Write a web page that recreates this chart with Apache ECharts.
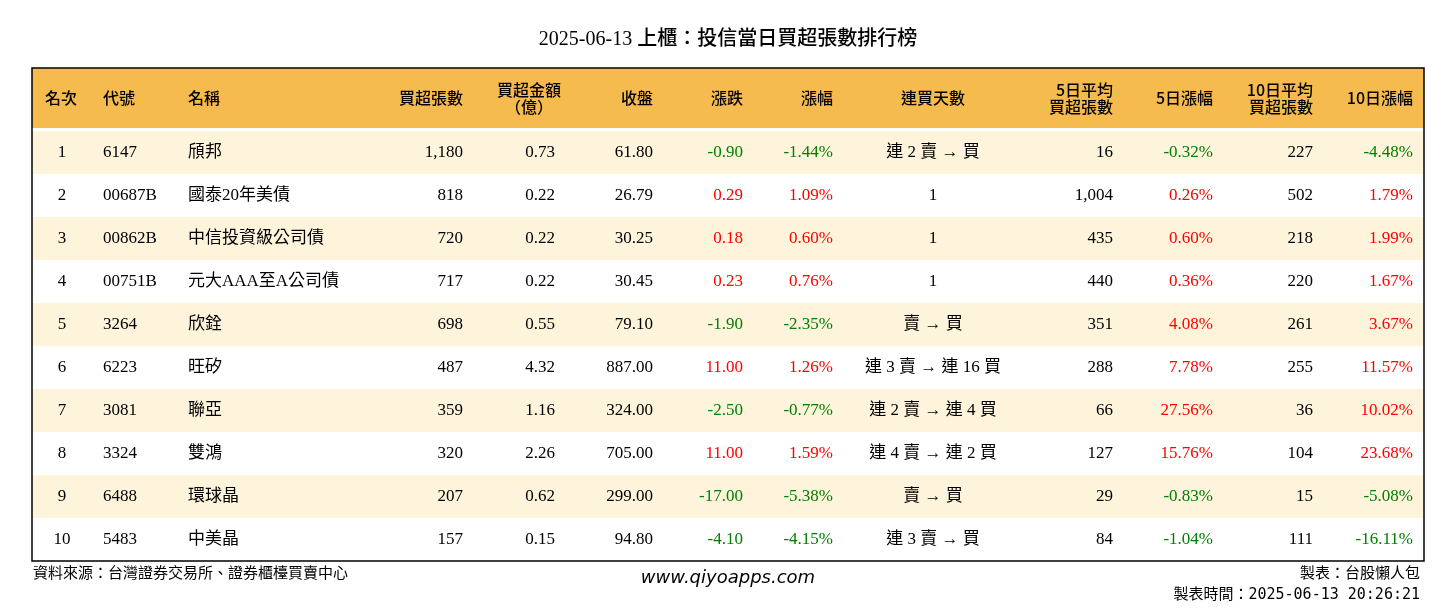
<!DOCTYPE html>
<html><head><meta charset="utf-8">
<script src="https://cdn.jsdelivr.net/npm/echarts@6/dist/echarts.min.js"></script>
<style>html,body{margin:0;padding:0;background:#fff}#c{width:1456px;height:612px}</style>
</head><body><div id="c"></div>
<script>
var headers = ['名次', '代號', '名稱', '買超張數', '買超金額\n（億）', '收盤', '漲跌', '漲幅', '連買天數', '5日平均\n買超張數', '5日漲幅', '10日平均\n買超張數', '10日漲幅'];
var codes = ['6147', '00687B', '00862B', '00751B', '3264', '6223', '3081', '3324', '6488', '5483'];
var names = ['頎邦', '國泰20年美債', '中信投資級公司債', '元大AAA至A公司債', '欣銓', '旺矽', '聯亞', '雙鴻', '環球晶', '中美晶'];
var buyLots = ['1,180', '818', '720', '717', '698', '487', '359', '320', '207', '157'];
var buyAmount = ['0.73', '0.22', '0.22', '0.22', '0.55', '4.32', '1.16', '2.26', '0.62', '0.15'];
var closes = ['61.80', '26.79', '30.25', '30.45', '79.10', '887.00', '324.00', '705.00', '299.00', '94.80'];
var changes = ['-0.90', '0.29', '0.18', '0.23', '-1.90', '11.00', '-2.50', '11.00', '-17.00', '-4.10'];
var changePct = ['-1.44%', '1.09%', '0.60%', '0.76%', '-2.35%', '1.26%', '-0.77%', '1.59%', '-5.38%', '-4.15%'];
var streaks = ['連 2 賣 → 買', '1', '1', '1', '賣 → 買', '連 3 賣 → 連 16 買', '連 2 賣 → 連 4 買', '連 4 賣 → 連 2 買', '賣 → 買', '連 3 賣 → 買'];
var avg5 = ['16', '1,004', '435', '440', '351', '288', '66', '127', '29', '84'];
var pct5 = ['-0.32%', '0.26%', '0.60%', '0.36%', '4.08%', '7.78%', '27.56%', '15.76%', '-0.83%', '-1.04%'];
var avg10 = ['227', '502', '218', '220', '261', '255', '36', '104', '15', '111'];
var pct10 = ['-4.48%', '1.79%', '1.99%', '1.67%', '3.67%', '11.57%', '10.02%', '23.68%', '-5.08%', '-16.11%'];

// column layout: x within table (px), text alignment
var colX = [30, 71, 156, 431, 523, 621, 711, 801, 901, 1081, 1181, 1281, 1381];
var colAlign = ['center', 'left', 'left', 'right', 'right', 'right', 'right', 'right', 'center', 'right', 'right', 'right', 'right'];
var headX = [13, 71, 156, 431, 497, 621, 711, 801, 901, 1081, 1181, 1281, 1381];
var headAlign = ['left', 'left', 'left', 'right', 'center', 'right', 'right', 'right', 'center', 'right', 'right', 'right', 'right'];
var signCols = [6, 7, 10, 12];

var FONT = '"Liberation Serif", "Noto Sans CJK TC", serif';
var rows = codes.map(function (c, i) { return i; });

function cellValues(i) {
  return [String(i + 1), codes[i], names[i], buyLots[i], buyAmount[i], closes[i], changes[i], changePct[i],
    streaks[i], avg5[i], pct5[i], avg10[i], pct10[i]];
}

var chart = echarts.init(document.getElementById('c'));
var L = 32, T = 68, W = 1392, HH = 60;
var FOOT = '15px "DejaVu Sans Mono", "Noto Sans CJK TC", monospace';

var graphics = [
  {type: 'text', left: 'center', top: 30, style: {text: '2025-06-13 上櫃：投信當日買超張數排行榜', font: '500 20px ' + FONT, fill: '#000'}},
  {type: 'rect', shape: {x: L, y: T, width: W, height: HH}, style: {fill: '#F6BB4E'}, z: 1},
  {type: 'rect', shape: {x: L, y: T, width: W, height: 493}, style: {fill: 'none', stroke: '#000', lineWidth: 1.5}, z: 10},
  {type: 'text', left: 33, top: 567, style: {text: '資料來源：台灣證券交易所、證券櫃檯買賣中心', font: FOOT, fill: '#000'}},
  {type: 'text', left: 'center', top: 569, style: {text: 'www.qiyoapps.com', font: 'italic 18px "DejaVu Sans", sans-serif', fill: '#000'}},
  {type: 'text', right: 36, top: 567, style: {text: '製表：台股懶人包', font: FOOT, fill: '#000', align: 'right'}},
  {type: 'text', right: 36, top: 588, style: {text: '製表時間：2025-06-13 20:26:21', font: FOOT, fill: '#000', align: 'right'}}
];
headers.forEach(function (h, j) {
  graphics.push({type: 'text', x: L + headX[j], y: T + HH / 2, z: 5,
    style: {text: h, font: '500 16px "Noto Sans CJK TC"', fill: '#000', align: headAlign[j], verticalAlign: 'middle', lineHeight: 17}});
});

chart.setOption({
  animation: false,
  grid: {left: L, right: 1456 - L - W, top: T + HH + 3, bottom: 51},
  xAxis: {type: 'value', min: 0, max: W, show: false},
  yAxis: {type: 'category', data: rows, inverse: true, show: false},
  graphic: graphics,
  series: [{
    type: 'custom',
    data: rows.map(function (r) { return [0, r]; }),
    renderItem: function (params, api) {
      var i = api.value(1);
      var c = api.coord([0, i]);
      var h = api.size([0, 1])[1];
      var vals = cellValues(i);
      var kids = [{type: 'rect', shape: {x: c[0], y: c[1] - h / 2, width: W, height: h},
        style: {fill: i % 2 === 0 ? '#FEF4DC' : '#FFFFFF'}}];
      vals.forEach(function (v, j) {
        var fill = '#000';
        if (signCols.indexOf(j) >= 0) fill = v.charAt(0) === '-' ? '#008000' : '#FF0000';
        var cjk = (j === 2 || j === 8);
        kids.push({type: 'text', x: c[0] + colX[j], y: c[1],
          style: {text: v, fill: fill, align: colAlign[j], verticalAlign: 'middle',
            font: (cjk ? '17px ' : '17px ') + FONT}});
      });
      return {type: 'group', children: kids};
    }
  }]
});
</script></body></html>
